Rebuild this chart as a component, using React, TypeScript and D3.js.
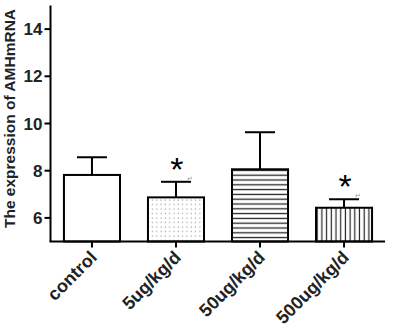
import React from "react";
import * as d3 from "d3";

const categories = ["control", "5ug/kg/d", "50ug/kg/d", "500ug/kg/d"];
const means = [7.82, 6.87, 8.06, 6.43];
const errors = [0.75, 0.66, 1.57, 0.36];
const significant = [false, true, false, true];
const patterns = ["none", "dots", "hlines", "vlines"];
const yTicks = [6, 8, 10, 12, 14];

const W = 394;
const H = 332;
const axisX = 50.5;
const axisY = 241.5;
const yTop = 5.5;
const xRight = 385;

export default function App() {
  const y = d3.scaleLinear().domain([5, 15]).range([axisY, yTop]);
  const x = d3
    .scaleBand()
    .domain(categories)
    .range([50, 386])
    .paddingInner(0.333)
    .paddingOuter(0.166);
  const bw = x.bandwidth();
  const font = "'Liberation Sans', Arial, sans-serif";

  const fillFor = (p: string) =>
    p === "none" ? "#fff" : `url(#pat-${p})`;

  return (
    <svg
      width={W}
      height={H}
      style={{ position: "absolute", left: 0, top: 0, background: "#fff" }}
      fontFamily={font}
    >
      <defs>
        <pattern id="pat-dots" width="4.3" height="4.5" patternUnits="userSpaceOnUse">
          <rect width="4.3" height="4.5" fill="#fff" />
          <circle cx="2" cy="2" r="0.7" fill="#999" />
        </pattern>
        <pattern id="pat-hlines" width="10" height="4.8" patternUnits="userSpaceOnUse">
          <rect width="10" height="4.8" fill="#fff" />
          <line x1="0" x2="10" y1="2.4" y2="2.4" stroke="#222" strokeWidth="1.3" />
        </pattern>
        <pattern id="pat-vlines" width="4.7" height="10" patternUnits="userSpaceOnUse">
          <rect width="4.7" height="10" fill="#fff" />
          <line x1="2.3" x2="2.3" y1="0" y2="10" stroke="#222" strokeWidth="1.2" />
        </pattern>
      </defs>

      {/* bars */}
      {categories.map((c, i) => {
        const x0 = x(c)!;
        const cx = x0 + bw / 2;
        const top = y(means[i]);
        const eTop = y(means[i] + errors[i]);
        return (
          <g key={c}>
            <line x1={cx} x2={cx} y1={top} y2={eTop} stroke="#000" strokeWidth={2} />
            <line x1={cx - 15} x2={cx + 15} y1={eTop} y2={eTop} stroke="#000" strokeWidth={2} />
            <rect
              x={x0}
              y={top}
              width={bw}
              height={axisY - top}
              fill={fillFor(patterns[i])}
              stroke="#000"
              strokeWidth={2}
            />
            {significant[i] && (
              <>
                <text
                  x={cx + 1}
                  y={eTop - 1}
                  textAnchor="middle"
                  fontSize={34}
                  fontWeight="normal"
                  fill="#000"
                >
                  *
                </text>
                <text x={cx + 11} y={eTop - 1} fontSize={7} fill="#999">
                  ↵
                </text>
              </>
            )}
          </g>
        );
      })}

      {/* y axis */}
      <line x1={axisX} x2={axisX} y1={yTop} y2={axisY} stroke="#000" strokeWidth={2} />
      {yTicks.map((t) => (
        <g key={t}>
          <line x1={axisX - 6} x2={axisX} y1={y(t)} y2={y(t)} stroke="#000" strokeWidth={2} />
          <text
            x={axisX - 8}
            y={y(t)}
            dy="0.36em"
            textAnchor="end"
            fontSize={17}
            fontWeight="bold"
            fill="#222"
          >
            {t}
          </text>
        </g>
      ))}

      {/* x axis */}
      <line x1={axisX - 1} x2={xRight} y1={axisY} y2={axisY} stroke="#000" strokeWidth={2} />
      {categories.map((c) => {
        const cx = x(c)! + bw / 2;
        return (
          <g key={c}>
            <line x1={cx} x2={cx} y1={axisY} y2={axisY + 6} stroke="#000" strokeWidth={2} />
            <text
              transform={`translate(${cx + 6},${axisY + 17}) rotate(-45)`}
              textAnchor="end"
              fontSize={18}
              fontWeight="bold"
              fill="#222"
            >
              {c}
            </text>
          </g>
        );
      })}

      {/* y title */}
      <text
        transform={`translate(15,118.5) rotate(-90)`}
        textAnchor="middle"
        fontSize={15.5}
        fontWeight="bold"
        fill="#222"
      >
        The expression of AMHmRNA
      </text>
    </svg>
  );
}
